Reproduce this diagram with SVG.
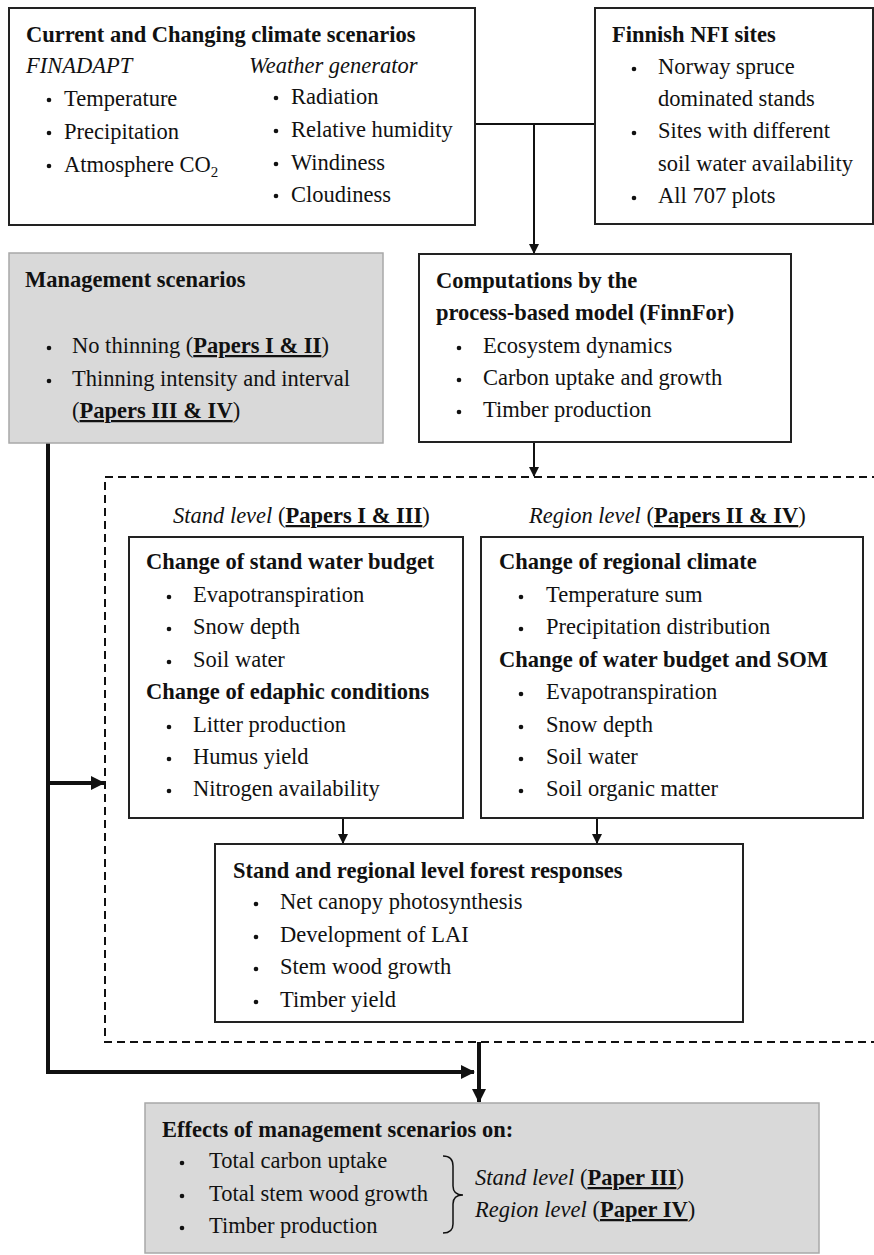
<svg xmlns="http://www.w3.org/2000/svg" width="874" height="1255" viewBox="0 0 874 1255">
<defs>
<style>
text{font-family:"Liberation Serif","Times New Roman",serif;font-size:22.5px;fill:#111}
.b{font-weight:bold}
.i{font-style:italic}
.u{font-weight:bold;text-decoration:underline}
.box{fill:#fff;stroke:#222;stroke-width:2}
.gbox{fill:#d9d9d9;stroke:#a8a8a8;stroke-width:1.5}
.thin{fill:none;stroke:#111;stroke-width:2}
.thick{fill:none;stroke:#111;stroke-width:4}
.dash{fill:none;stroke:#111;stroke-width:2;stroke-dasharray:8,5}
.dot{fill:#111}
</style>
<marker id="ah" markerWidth="10" markerHeight="10" refX="9" refY="5" orient="auto" markerUnits="userSpaceOnUse">
<path d="M0,0 L10,5 L0,10 z" fill="#111"/>
</marker>
<marker id="ahb" markerWidth="14" markerHeight="14" refX="13" refY="7" orient="auto" markerUnits="userSpaceOnUse">
<path d="M0,0 L14,7 L0,14 z" fill="#111"/>
</marker>
</defs>

<g id="connectors">
<path class="thin" d="M475,124 H595"/>
<path class="thin" d="M534,124 V253" marker-end="url(#ah)"/>
<path class="thin" d="M534,442 V476" marker-end="url(#ah)"/>
<path class="dash" d="M880,477 H105 V1042 H880"/>
<path class="thick" d="M48,443 V1072 H474" marker-end="url(#ahb)"/>
<path class="thick" d="M48,783 H104" marker-end="url(#ahb)"/>
<path class="thick" d="M479,1042 V1102" marker-end="url(#ahb)"/>
<path class="thin" d="M343,818 V843" marker-end="url(#ah)"/>
<path class="thin" d="M597,818 V843" marker-end="url(#ah)"/>
</g>

<g id="climate">
<rect class="box" x="9" y="8" width="466" height="217"/>
<text class="b" x="26" y="42">Current and Changing climate scenarios</text>
<text class="i" x="26" y="73">FINADAPT</text>
<text class="i" x="249" y="73">Weather generator</text>
<circle class="dot" cx="49" cy="100" r="2.3"/>
<text x="64" y="106">Temperature</text>
<circle class="dot" cx="49" cy="133" r="2.3"/>
<text x="64" y="139">Precipitation</text>
<circle class="dot" cx="49" cy="166" r="2.3"/>
<text x="64" y="172">Atmosphere CO<tspan font-size="15" dy="5">2</tspan></text>
<circle class="dot" cx="276" cy="98" r="2.3"/>
<text x="291" y="104">Radiation</text>
<circle class="dot" cx="276" cy="131" r="2.3"/>
<text x="291" y="137">Relative humidity</text>
<circle class="dot" cx="276" cy="164" r="2.3"/>
<text x="291" y="170">Windiness</text>
<circle class="dot" cx="276" cy="196" r="2.3"/>
<text x="291" y="202">Cloudiness</text>
</g>

<g id="nfi">
<rect class="box" x="595" y="8" width="278" height="216"/>
<text class="b" x="612" y="42">Finnish NFI sites</text>
<circle class="dot" cx="634" cy="69" r="2.3"/>
<text x="658" y="74">Norway spruce</text>
<text x="658" y="106">dominated stands</text>
<circle class="dot" cx="634" cy="133" r="2.3"/>
<text x="658" y="138">Sites with different</text>
<text x="658" y="171">soil water availability</text>
<circle class="dot" cx="634" cy="198" r="2.3"/>
<text x="658" y="203">All 707 plots</text>
</g>

<g id="management">
<rect class="gbox" x="9" y="253" width="374" height="190"/>
<text class="b" x="25" y="287">Management scenarios</text>
<circle class="dot" cx="49" cy="348" r="2.3"/>
<text x="72" y="353">No thinning (<tspan class="u">Papers I &amp; II</tspan>)</text>
<circle class="dot" cx="49" cy="381" r="2.3"/>
<text x="72" y="386">Thinning intensity and interval</text>
<text x="72" y="418">(<tspan class="u">Papers III &amp; IV</tspan>)</text>
</g>

<g id="computations">
<rect class="box" x="419" y="254" width="372" height="188"/>
<text class="b" x="436" y="288">Computations by the</text>
<text class="b" x="436" y="320">process-based model (FinnFor)</text>
<circle class="dot" cx="459" cy="348" r="2.3"/>
<text x="483" y="353">Ecosystem dynamics</text>
<circle class="dot" cx="459" cy="380" r="2.3"/>
<text x="483" y="385">Carbon uptake and growth</text>
<circle class="dot" cx="459" cy="412" r="2.3"/>
<text x="483" y="417">Timber production</text>
</g>

<g id="stand-label">
<text x="173" y="523"><tspan class="i">Stand level</tspan> (<tspan class="u">Papers I &amp; III</tspan>)</text>
</g>
<g id="region-label">
<text x="529" y="523"><tspan class="i">Region level</tspan> (<tspan class="u">Papers II &amp; IV</tspan>)</text>
</g>

<g id="stand">
<rect class="box" x="129" y="537" width="334" height="281"/>
<text class="b" x="146" y="569">Change of stand water budget</text>
<circle class="dot" cx="169" cy="597" r="2.3"/>
<text x="193" y="602">Evapotranspiration</text>
<circle class="dot" cx="169" cy="629" r="2.3"/>
<text x="193" y="634">Snow depth</text>
<circle class="dot" cx="169" cy="662" r="2.3"/>
<text x="193" y="667">Soil water</text>
<text class="b" x="146" y="699">Change of edaphic conditions</text>
<circle class="dot" cx="169" cy="727" r="2.3"/>
<text x="193" y="732">Litter production</text>
<circle class="dot" cx="169" cy="759" r="2.3"/>
<text x="193" y="764">Humus yield</text>
<circle class="dot" cx="169" cy="791" r="2.3"/>
<text x="193" y="796">Nitrogen availability</text>
</g>

<g id="region">
<rect class="box" x="481" y="537" width="382" height="281"/>
<text class="b" x="499" y="569">Change of regional climate</text>
<circle class="dot" cx="521" cy="597" r="2.3"/>
<text x="546" y="602">Temperature sum</text>
<circle class="dot" cx="521" cy="629" r="2.3"/>
<text x="546" y="634">Precipitation distribution</text>
<text class="b" x="499" y="667">Change of water budget and SOM</text>
<circle class="dot" cx="521" cy="694" r="2.3"/>
<text x="546" y="699">Evapotranspiration</text>
<circle class="dot" cx="521" cy="727" r="2.3"/>
<text x="546" y="732">Snow depth</text>
<circle class="dot" cx="521" cy="759" r="2.3"/>
<text x="546" y="764">Soil water</text>
<circle class="dot" cx="521" cy="791" r="2.3"/>
<text x="546" y="796">Soil organic matter</text>
</g>

<g id="responses">
<rect class="box" x="215" y="844" width="528" height="178"/>
<text class="b" x="233" y="878">Stand and regional level forest responses</text>
<circle class="dot" cx="256" cy="904" r="2.3"/>
<text x="280" y="909">Net canopy photosynthesis</text>
<circle class="dot" cx="256" cy="937" r="2.3"/>
<text x="280" y="942">Development of LAI</text>
<circle class="dot" cx="256" cy="969" r="2.3"/>
<text x="280" y="974">Stem wood growth</text>
<circle class="dot" cx="256" cy="1002" r="2.3"/>
<text x="280" y="1007">Timber yield</text>
</g>

<g id="effects">
<rect class="gbox" x="145" y="1103" width="674" height="150"/>
<text class="b" x="162" y="1137">Effects of management scenarios on:</text>
<circle class="dot" cx="182" cy="1163" r="2.3"/>
<text x="209" y="1168">Total carbon uptake</text>
<circle class="dot" cx="182" cy="1196" r="2.3"/>
<text x="209" y="1201">Total stem wood growth</text>
<circle class="dot" cx="182" cy="1228" r="2.3"/>
<text x="209" y="1233">Timber production</text>
<path fill="none" stroke="#111" stroke-width="1.5" d="M443,1156 Q453,1156 453,1166 V1186 Q453,1195 463,1195 Q453,1195 453,1204 V1224 Q453,1233 443,1233"/>
<text x="475" y="1185"><tspan class="i">Stand level</tspan> (<tspan class="u">Paper III</tspan>)</text>
<text x="475" y="1217"><tspan class="i">Region level</tspan> (<tspan class="u">Paper IV</tspan>)</text>
</g>
</svg>
